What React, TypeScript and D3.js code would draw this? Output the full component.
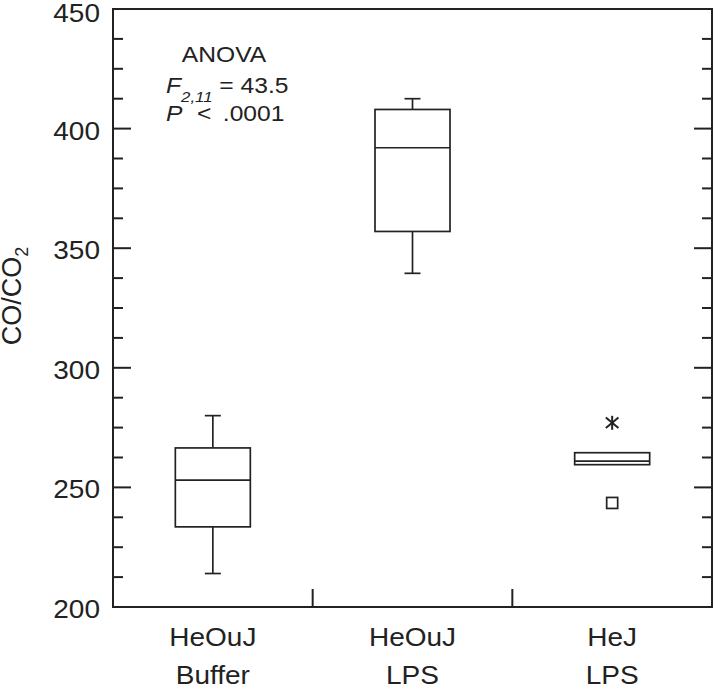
import { useEffect, useRef } from 'react';
import * as d3 from 'd3';

// group labels (two lines each)
const groupLine1 = ['HeOuJ', 'HeOuJ', 'HeJ'];
const groupLine2 = ['Buffer', 'LPS', 'LPS'];

// box statistics
const whiskerLow = [214, 339.5, 259.5];
const q1 = [233.5, 357, 259.5];
const median = [253, 392, 261];
const q3 = [266.5, 408, 264.5];
const whiskerHigh = [280, 412.5, 264.5];

// outliers for HeJ LPS
const outlierStar = [{ group: 2, value: 277 }];
const outlierSquare = [{ group: 2, value: 243.5 }];

const yTicks = [200, 250, 300, 350, 400, 450];

// the original figure is slightly stretched horizontally
const SX = 1.12;

export default function App() {
    const svgRef = useRef<SVGSVGElement>(null);
    const width = 713;
    const height = 688;

    useEffect(() => {
        if (!svgRef.current) return;
        const svg = d3.select(svgRef.current);
        svg.selectAll('*').remove();

        const left = 113, right = 712, top = 9, bottom = 607;
        const font = 'Liberation Sans, Arial, sans-serif';
        const ink = '#222';

        const y = d3.scaleLinear().domain([200, 450]).range([bottom, top]);
        const x = d3.scaleBand<number>().domain([0, 1, 2]).range([left, right]);

        const g = svg.append('g');

        const addText = (tx: number, ty: number, size: number, anchor: string) =>
            g.append('text')
                .attr('transform', `translate(${tx},${ty}) scale(${SX},1)`)
                .attr('text-anchor', anchor)
                .attr('font-family', font)
                .attr('font-size', size)
                .attr('fill', ink);

        // frame
        g.append('rect')
            .attr('x', left).attr('y', top)
            .attr('width', right - left).attr('height', bottom - top)
            .attr('fill', 'none').attr('stroke', ink).attr('stroke-width', 2);

        // y ticks (minor every 12.5), on left and right
        d3.range(200, 450.01, 12.5).forEach(v => {
            const len = v % 50 === 0 ? 18 : 10;
            g.append('line')
                .attr('x1', left).attr('x2', left + len)
                .attr('y1', y(v)).attr('y2', y(v))
                .attr('stroke', ink).attr('stroke-width', 2);
            g.append('line')
                .attr('x1', right).attr('x2', right - len)
                .attr('y1', y(v)).attr('y2', y(v))
                .attr('stroke', ink).attr('stroke-width', 2);
        });

        yTicks.forEach(v => {
            const ty = v === 450 ? y(v) + 12.5 : y(v) + 11;
            addText(100, ty, 25, 'end').text(v);
        });

        // x ticks between groups
        [1, 2].forEach(i => {
            const xx = x(i)!;
            g.append('line')
                .attr('x1', xx).attr('x2', xx)
                .attr('y1', bottom).attr('y2', bottom - 18)
                .attr('stroke', ink).attr('stroke-width', 2);
        });

        groupLine1.forEach((t, i) => {
            const cx = x(i)! + x.bandwidth() / 2;
            addText(cx, 646, 25, 'middle').text(t);
            addText(cx, 684, 25, 'middle').text(groupLine2[i]);
        });

        // y label
        const ylab = g.append('text')
            .attr('transform', `translate(21,296) rotate(-90)`)
            .attr('text-anchor', 'middle')
            .attr('font-family', font).attr('font-size', 27).attr('fill', ink);
        ylab.append('tspan').text('CO/CO');
        ylab.append('tspan').attr('font-size', 18).attr('dy', 7).text('2');

        // boxes
        const boxW = 75;
        const capW = 16;
        [0, 1, 2].forEach(i => {
            const cx = x(i)! + x.bandwidth() / 2;
            const bg = g.append('g').attr('stroke', ink).attr('stroke-width', 1.7).attr('fill', 'none');
            if (whiskerHigh[i] > q3[i]) {
                bg.append('line').attr('x1', cx).attr('x2', cx).attr('y1', y(q3[i])).attr('y2', y(whiskerHigh[i]));
                bg.append('line').attr('x1', cx - capW / 2).attr('x2', cx + capW / 2).attr('y1', y(whiskerHigh[i])).attr('y2', y(whiskerHigh[i]));
            }
            if (whiskerLow[i] < q1[i]) {
                bg.append('line').attr('x1', cx).attr('x2', cx).attr('y1', y(q1[i])).attr('y2', y(whiskerLow[i]));
                bg.append('line').attr('x1', cx - capW / 2).attr('x2', cx + capW / 2).attr('y1', y(whiskerLow[i])).attr('y2', y(whiskerLow[i]));
            }
            bg.append('rect')
                .attr('x', cx - boxW / 2).attr('y', y(q3[i]))
                .attr('width', boxW).attr('height', y(q1[i]) - y(q3[i]));
            bg.append('line')
                .attr('x1', cx - boxW / 2).attr('x2', cx + boxW / 2)
                .attr('y1', y(median[i])).attr('y2', y(median[i]));
        });

        // outliers
        outlierStar.forEach(o => {
            const cx = x(o.group)! + x.bandwidth() / 2;
            const cy = y(o.value);
            const r = 7;
            const sg = g.append('g').attr('stroke', ink).attr('stroke-width', 2);
            sg.append('line').attr('x1', cx).attr('x2', cx).attr('y1', cy - r).attr('y2', cy + r);
            sg.append('line').attr('x1', cx - r * 0.9).attr('x2', cx + r * 0.9).attr('y1', cy - r * 0.75).attr('y2', cy + r * 0.75);
            sg.append('line').attr('x1', cx - r * 0.9).attr('x2', cx + r * 0.9).attr('y1', cy + r * 0.75).attr('y2', cy - r * 0.75);
        });
        outlierSquare.forEach(o => {
            const cx = x(o.group)! + x.bandwidth() / 2;
            const cy = y(o.value);
            g.append('rect')
                .attr('x', cx - 5.5).attr('y', cy - 5.5)
                .attr('width', 11).attr('height', 11)
                .attr('fill', 'none').attr('stroke', ink).attr('stroke-width', 1.7);
        });

        // ANOVA annotation
        addText(224, 62, 22, 'middle').text('ANOVA');
        const f = addText(166, 93, 22, 'start');
        f.append('tspan').attr('font-style', 'italic').text('F');
        f.append('tspan').attr('font-style', 'italic').attr('font-size', 15).attr('dy', 9).text('2,11');
        f.append('tspan').attr('dy', -9).text(' = 43.5');
        const p = addText(166, 121, 22, 'start');
        p.append('tspan').attr('font-style', 'italic').text('P');
        p.append('tspan').attr('dx', 7).text(' <');
        p.append('tspan').attr('dx', 4).text(' .0001');
    }, []);

    return (
        <svg
            ref={svgRef}
            width={width}
            height={height}
            style={{ position: 'absolute', left: 0, top: 0, background: '#fff' }}
        />
    );
}
